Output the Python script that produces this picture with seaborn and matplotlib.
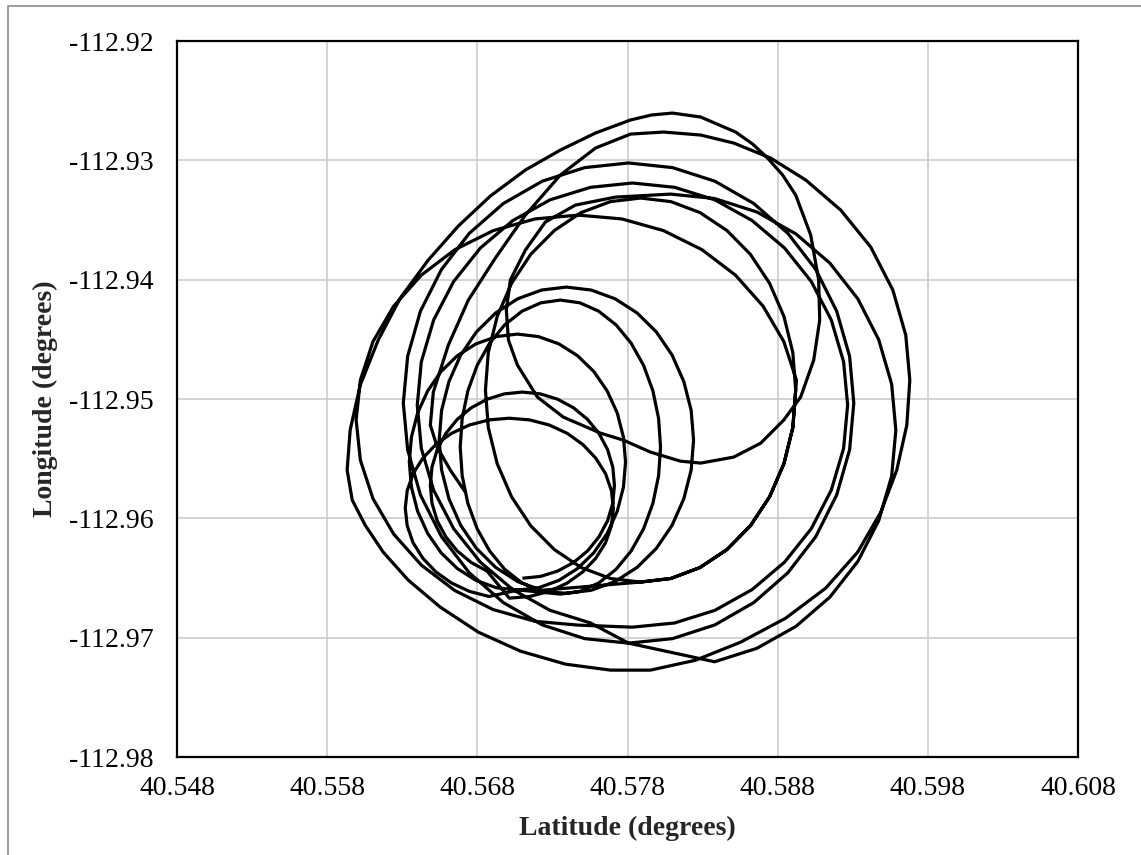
import numpy as np
import pandas as pd
import matplotlib
matplotlib.use("Agg")
import matplotlib.pyplot as plt
import seaborn as sns
from matplotlib.patches import Rectangle

# ---- flight track, one list pair per loop (latitude, longitude in degrees) ----
s1_lat = [40.571, 40.5722, 40.57335, 40.57441, 40.57534, 40.5761, 40.57667, 40.57702,
          40.57713, 40.57702, 40.57667, 40.5761, 40.57534, 40.57441, 40.57335, 40.5722,
          40.571, 40.5698, 40.56865, 40.56759, 40.56666, 40.5659, 40.56533, 40.56498,
          40.56487, 40.56498, 40.56533, 40.5659, 40.56666, 40.56759, 40.56865]
s1_lon = [-112.96502, -112.96487, -112.96442, -112.9637, -112.96273, -112.96155, -112.96021, -112.95874,
          -112.95722, -112.9557, -112.95423, -112.95289, -112.95171, -112.95074, -112.95002, -112.94957,
          -112.94942, -112.94957, -112.95002, -112.95074, -112.95171, -112.95289, -112.95423, -112.9557,
          -112.95722, -112.95874, -112.96021, -112.96155, -112.96273, -112.9637, -112.96442]

s2_lat = [40.57013, 40.57148, 40.57279, 40.57399, 40.57503, 40.57589, 40.57654, 40.57693,
          40.57706, 40.57693, 40.57654, 40.57589, 40.57503, 40.57399, 40.57279, 40.57148,
          40.57013, 40.56878, 40.56747, 40.56628, 40.56523, 40.56437, 40.56372, 40.56333,
          40.5632, 40.56333, 40.56372, 40.56437, 40.56523, 40.56628, 40.56747, 40.56878]
s2_lon = [-112.96669, -112.96655, -112.96612, -112.96542, -112.96448, -112.96334, -112.96204, -112.96062,
          -112.95915, -112.95768, -112.95626, -112.95496, -112.95382, -112.95288, -112.95218, -112.95175,
          -112.95161, -112.95175, -112.95218, -112.95288, -112.95382, -112.95496, -112.95626, -112.95768,
          -112.95915, -112.96062, -112.96204, -112.96334, -112.96448, -112.96542, -112.96612, -112.96655]

s0_lat = [40.57067, 40.57207, 40.57343, 40.57467, 40.57576, 40.57665, 40.57732, 40.57773,
          40.57787, 40.57773, 40.57732, 40.57665, 40.57576, 40.57467, 40.57343, 40.57207,
          40.57067, 40.56927, 40.56791, 40.56667, 40.56558, 40.56469, 40.56402, 40.56361,
          40.56347, 40.56361, 40.56402, 40.56469, 40.56558, 40.56667, 40.56791, 40.56927]
s0_lon = [-112.96602, -112.96582, -112.9652, -112.96421, -112.96288, -112.96126, -112.9594, -112.95738,
          -112.95529, -112.9532, -112.95118, -112.94933, -112.9477, -112.94637, -112.94538, -112.94477,
          -112.94456, -112.94477, -112.94538, -112.94637, -112.9477, -112.94933, -112.95118, -112.9532,
          -112.95529, -112.95738, -112.9594, -112.96126, -112.96288, -112.96421, -112.9652, -112.96582]

m2_lat = [40.57353, 40.57483, 40.57608, 40.57724, 40.57824, 40.57907, 40.57969, 40.58007,
          40.5802, 40.58007, 40.57969, 40.57907, 40.57824, 40.57724, 40.57608, 40.57483,
          40.57353, 40.57223, 40.57098, 40.56982, 40.56882, 40.56799, 40.56737, 40.56699,
          40.56686, 40.56699, 40.56737, 40.56799, 40.56882, 40.56982, 40.57098, 40.57223]
m2_lon = [-112.96635, -112.96612, -112.96542, -112.96427, -112.96274, -112.96088, -112.95875, -112.95643,
          -112.95403, -112.95163, -112.94931, -112.94718, -112.94532, -112.94379, -112.94264, -112.94194,
          -112.94171, -112.94194, -112.94264, -112.94379, -112.94532, -112.94718, -112.94931, -112.95163,
          -112.95403, -112.95643, -112.95875, -112.96088, -112.96274, -112.96427, -112.96542, -112.96612]

m1_lat = [40.57393, 40.57558, 40.57717, 40.57864, 40.57992, 40.58097, 40.58175, 40.58224,
          40.5824, 40.58224, 40.58175, 40.58097, 40.57992, 40.57864, 40.57717, 40.57558,
          40.57393, 40.57228, 40.57069, 40.56922, 40.56794, 40.56689, 40.56611, 40.56562,
          40.56546, 40.56562, 40.56611, 40.56689, 40.56794, 40.56922, 40.57069, 40.57228]
m1_lon = [-112.96628, -112.96603, -112.9653, -112.96411, -112.96252, -112.96058, -112.95836, -112.95595,
          -112.95345, -112.95095, -112.94854, -112.94632, -112.94438, -112.94279, -112.9416, -112.94087,
          -112.94062, -112.94087, -112.9416, -112.94279, -112.94438, -112.94632, -112.94854, -112.95095,
          -112.95345, -112.95595, -112.95836, -112.96058, -112.96252, -112.96411, -112.9653, -112.96603]

f_lat = [40.57887, 40.58089, 40.58283, 40.58462, 40.58618, 40.58746, 40.58842, 40.58901,
         40.5892, 40.58901, 40.58842, 40.58746, 40.58618, 40.58462, 40.58283, 40.58089,
         40.57887, 40.57686, 40.57491, 40.57313, 40.57156, 40.57028, 40.56932, 40.56873,
         40.56854, 40.56873, 40.56932, 40.57028, 40.57156, 40.57313, 40.57491, 40.57686,
         40.57887, 40.58089, 40.58283, 40.58462, 40.58618, 40.58746, 40.58842, 40.58901, 40.5892]
f_lon = [-112.96534, -112.96504, -112.96412, -112.96262, -112.96063, -112.9582, -112.95541, -112.95239,
         -112.94925, -112.94611, -112.94309, -112.9403, -112.93787, -112.93588, -112.93438, -112.93346,
         -112.93316, -112.93346, -112.93438, -112.93588, -112.93787, -112.9403, -112.94309, -112.94611,
         -112.94925, -112.95239, -112.95541, -112.9582, -112.96063, -112.96262, -112.96412, -112.96504,
         -112.96534, -112.96504, -112.96412, -112.96262, -112.96063, -112.9582, -112.95541, -112.95239,
         -112.94925]

q_lat = [40.58925, 40.58841, 40.58703, 40.58519, 40.58296, 40.5804, 40.57762, 40.57473,
         40.57184, 40.56906, 40.5665, 40.56427, 40.56243, 40.56105, 40.56021, 40.55993,
         40.56021, 40.56105, 40.56243, 40.56427, 40.5665, 40.56906, 40.57184, 40.57473]
q_lon = [-112.94842, -112.94519, -112.94222, -112.93962, -112.93749, -112.93589, -112.93491, -112.93459,
         -112.93491, -112.93589, -112.93749, -112.93962, -112.94222, -112.94519, -112.94842, -112.95177,
         -112.95512, -112.95835, -112.96132, -112.96392, -112.96605, -112.96765, -112.96863, -112.96895]

e_lat = [40.57833, 40.58113, 40.58382, 40.5863, 40.58846, 40.59024, 40.59157, 40.59239,
         40.59266, 40.59239, 40.59157, 40.59024, 40.58846, 40.5863, 40.58382, 40.58113,
         40.57833, 40.57554, 40.57284, 40.57036, 40.5682, 40.56642, 40.56509, 40.56427,
         40.564, 40.56427, 40.56509, 40.56642, 40.5682, 40.57036, 40.57284, 40.57554]
e_lon = [-112.96912, -112.96877, -112.96771, -112.96597, -112.96367, -112.96086, -112.95764, -112.95414,
         -112.95051, -112.94688, -112.94338, -112.94016, -112.93735, -112.93505, -112.93331, -112.93226,
         -112.9319, -112.93226, -112.93331, -112.93505, -112.93735, -112.94016, -112.94338, -112.94688,
         -112.95051, -112.95414, -112.95764, -112.96086, -112.96367, -112.96597, -112.96771, -112.96877]

c_lat = [40.57807, 40.581, 40.58382, 40.58641, 40.58868, 40.59054, 40.59193, 40.59279,
         40.59307, 40.59279, 40.59193, 40.59054, 40.58868, 40.58641, 40.58382, 40.581,
         40.57807, 40.57515, 40.57232, 40.56973, 40.56746, 40.56561, 40.56421, 40.56336,
         40.56307, 40.56336, 40.56421, 40.56561, 40.56746, 40.56973, 40.57232, 40.57515, 40.57807]
c_lon = [-112.97046, -112.97008, -112.96893, -112.96706, -112.96456, -112.96153, -112.95804, -112.95426,
         -112.95034, -112.94642, -112.94264, -112.93915, -112.93612, -112.93362, -112.93175, -112.93061,
         -112.93022, -112.93061, -112.93175, -112.93362, -112.93612, -112.93915, -112.94264, -112.94642,
         -112.95034, -112.95426, -112.95804, -112.96153, -112.96456, -112.96706, -112.96893, -112.97008,
         -112.97046]

d_lat = [40.5838, 40.58662, 40.58922, 40.59148, 40.59334, 40.59473, 40.59559, 40.59587,
         40.59559, 40.59473, 40.59334, 40.59148, 40.58922, 40.58662, 40.5838, 40.58087]
d_lon = [-112.97202, -112.97089, -112.96905, -112.9666, -112.96361, -112.96019, -112.95647, -112.95261,
         -112.94875, -112.94503, -112.94161, -112.93862, -112.93617, -112.93433, -112.9332, -112.93283]

a_lat = [40.5772, 40.57453, 40.57253, 40.5712, 40.5702, 40.56993, 40.57007, 40.57067, 40.572, 40.57373,
         40.5762, 40.57773, 40.57953, 40.58153, 40.58287, 40.58507, 40.58687, 40.5884, 40.58953, 40.5904,
         40.5908, 40.59073, 40.5902, 40.5892, 40.58833, 40.58733, 40.58633, 40.5852, 40.58287, 40.581,
         40.5796]
a_lon = [-112.93308, -112.93375, -112.93517, -112.93752, -112.94003, -112.94255, -112.94506, -112.94716,
         -112.94984, -112.95152, -112.95286, -112.95345, -112.95445, -112.95521, -112.95537, -112.95487,
         -112.9537, -112.95177, -112.94984, -112.94674, -112.94339, -112.94003, -112.93626, -112.93291,
         -112.93123, -112.92981, -112.92863, -112.92763, -112.92637, -112.92604, -112.9262]

b_lat = [40.5782, 40.57587, 40.57353, 40.5712, 40.56887, 40.56673, 40.56473, 40.56287, 40.5614, 40.5602,
         40.55953, 40.55933, 40.55967, 40.56053, 40.56173, 40.5634, 40.56553, 40.56807, 40.57087, 40.57387,
         40.57687, 40.57953, 40.58253, 40.58553, 40.58853, 40.5912, 40.59333, 40.59487, 40.59593, 40.5966,
         40.5968, 40.59653, 40.59567, 40.5942, 40.5922, 40.58987, 40.58753, 40.58507, 40.58287, 40.5804]
b_lon = [-112.92662, -112.92771, -112.92914, -112.93081, -112.93299, -112.93551, -112.93836, -112.94154,
         -112.94506, -112.94884, -112.95261, -112.95596, -112.95847, -112.96057, -112.96283, -112.96518,
         -112.96744, -112.96954, -112.97113, -112.97222, -112.97272, -112.97272, -112.97189, -112.97038,
         -112.96837, -112.96585, -112.96283, -112.95948, -112.95596, -112.95219, -112.94842, -112.94464,
         -112.94087, -112.93727, -112.93417, -112.93165, -112.92981, -112.92855, -112.92788, -112.92763]

t_lat = [40.5782, 40.57587, 40.57353, 40.5712, 40.5692, 40.5674, 40.56607, 40.56507, 40.56487, 40.56533,
         40.5662, 40.5672]
t_lon = [-112.9278, -112.92897, -112.93123, -112.93459, -112.93819, -112.94171, -112.94548, -112.94942,
         -112.95219, -112.95403, -112.95596, -112.9578]

# ---- axis ticks ----
x_ticks = [40.548, 40.558, 40.568, 40.578, 40.588, 40.598, 40.608]
x_tick_labels = ["40.548", "40.558", "40.568", "40.578", "40.588", "40.598", "40.608"]
y_ticks = [-112.98, -112.97, -112.96, -112.95, -112.94, -112.93, -112.92]
y_tick_labels = ["-112.98", "-112.97", "-112.96", "-112.95", "-112.94", "-112.93", "-112.92"]

legs = [(s1_lat, s1_lon), (s2_lat, s2_lon), (s0_lat, s0_lon), (m2_lat, m2_lon), (m1_lat, m1_lon),
        (f_lat, f_lon), (q_lat, q_lon), (e_lat, e_lon), (c_lat, c_lon), (d_lat, d_lon),
        (a_lat, a_lon), (b_lat, b_lon), (t_lat, t_lon)]
lat = np.concatenate([np.asarray(la) for la, _ in legs])
lon = np.concatenate([np.asarray(lo) for _, lo in legs])
track = pd.DataFrame({"lat": lat, "lon": lon, "step": np.arange(len(lat))})

sns.set_theme(style="white")
plt.rcParams["font.family"] = ["Liberation Serif", "DejaVu Serif"]

W, H = 1141, 855
fig = plt.figure(figsize=(W / 100, H / 100), dpi=100)
fig.patch.set_facecolor("white")
ax = fig.add_axes([177 / W, 1 - 757 / H, (1078 - 177) / W, (757 - 41) / H])

sns.lineplot(data=track, x="lat", y="lon", sort=False, estimator=None,
             color="black", linewidth=2.3, ax=ax, legend=False)
for ln in ax.get_lines():
    ln.set_solid_joinstyle("round")
    ln.set_solid_capstyle("butt")

ax.set_xlim(40.548, 40.608)
ax.set_ylim(-112.98, -112.92)
ax.set_xticks(x_ticks)
ax.set_xticklabels(x_tick_labels)
ax.set_yticks(y_ticks)
ax.set_yticklabels(y_tick_labels)
ax.grid(True, color="#c8c8c8", linewidth=1.1)
ax.set_axisbelow(True)
for sp in ax.spines.values():
    sp.set_visible(True)
    sp.set_color("black")
    sp.set_linewidth(1.6)
ax.tick_params(axis="both", length=0, labelsize=20, colors="black")
ax.tick_params(axis="x", pad=14)
ax.tick_params(axis="y", pad=17)
ax.set_xlabel("")
ax.set_ylabel("")

fig.text(627 / W, 1 - 828 / H, "Latitude (degrees)", ha="center", va="center",
         fontsize=20, fontweight="bold")
fig.text(45 / W, 1 - 399 / H, "Longitude (degrees)", ha="center", va="center",
         rotation=90, fontsize=20, fontweight="bold")

# chart area border
fig.patches.append(Rectangle((8 / W, -0.5), 2.0, 0.5 + 1 - 6 / H, transform=fig.transFigure,
                             fill=False, edgecolor="#8c8c8c", linewidth=1.2))

fig.savefig("out.png", dpi=100)
